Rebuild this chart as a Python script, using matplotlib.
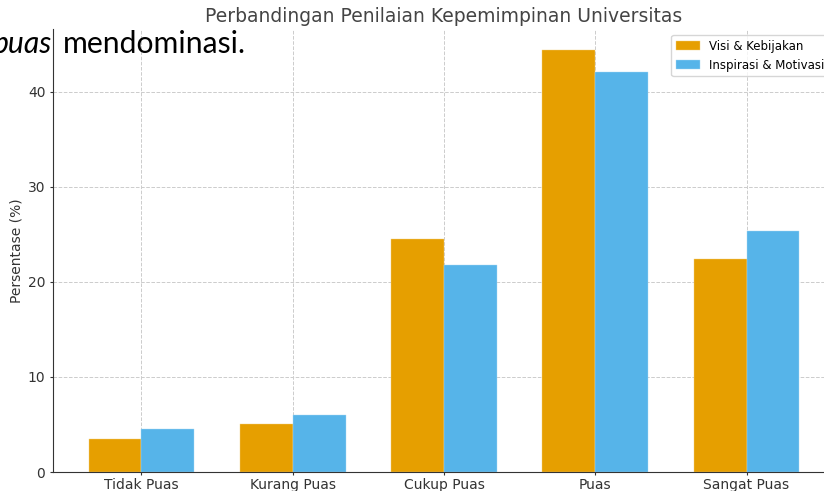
import numpy as np
import matplotlib
matplotlib.use("Agg")
import matplotlib.pyplot as plt

categories = ["Tidak Puas", "Kurang Puas", "Cukup Puas", "Puas", "Sangat Puas"]
visi = [3.5, 5.0, 24.5, 44.4, 22.4]
inspirasi = [4.5, 6.0, 21.8, 42.1, 25.4]
series_labels = ["Visi & Kebijakan", "Inspirasi & Motivasi"]
title = "Perbandingan Penilaian Kepemimpinan Universitas"
ylabel = "Persentase (%)"

W, H = 824, 491
fig = plt.figure(figsize=(W / 100, H / 100), dpi=100)
ax = fig.add_axes([53 / W, 19 / H, 782 / W, 443 / H])

x = np.arange(len(categories))
w = 0.35
ax.bar(x - w / 2, visi, w, color="#E69F00", label=series_labels[0], edgecolor="#f3cf80", linewidth=0.3)
ax.bar(x + w / 2, inspirasi, w, color="#56B4E9", label=series_labels[1], edgecolor="#aad9f4", linewidth=0.3)

ax.set_xticks(x)
ax.set_xticklabels(categories, fontsize=10, color="#333333")
ax.set_yticks([0, 10, 20, 30, 40])
ax.tick_params(axis="both", length=2.5, pad=2, color="#333333")
ax.tick_params(axis="y", labelsize=10, labelcolor="#333333", pad=3)
ax.set_ylabel(ylabel, fontsize=10, color="#333333", labelpad=3)
ax.set_title(title, fontsize=13.5, color="#444444", pad=5)
ax.set_axisbelow(True)
ax.grid(True, linestyle="--", color="#cccccc", linewidth=0.7)
for s in ["top", "right"]:
    ax.spines[s].set_visible(False)
for s in ["left", "bottom"]:
    ax.spines[s].set_color("#333333")
ax.legend(loc="upper right", fontsize=8.5)

fig.text(52 / W, (H - 53) / H, "puas", fontsize=21.7, family="Lato", style="italic",
         ha="right", va="baseline", color="black")
fig.text(63 / W, (H - 53) / H, "mendominasi.", fontsize=21.7, family="Lato",
         ha="left", va="baseline", color="black")

fig.savefig("out.png", dpi=100)
